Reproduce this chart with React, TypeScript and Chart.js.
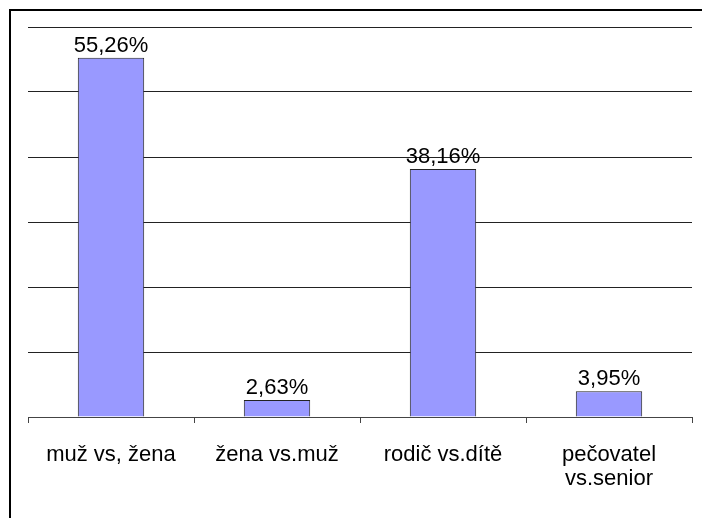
import React, { useEffect, useRef } from "react";
import { Chart, registerables } from "chart.js";

Chart.register(...registerables);

const categories: (string | string[])[] = [
  "muž vs, žena",
  "žena vs.muž",
  "rodič vs.dítě",
  ["pečovatel", "vs.senior"],
];
const values: number[] = [55.26, 2.63, 38.16, 3.95];
const yMin = 0;
const yMax = 60;
const yStep = 10;

const FONT = "'Liberation Sans', Arial, sans-serif";

const framePlugin = {
  id: "frame",
  beforeDraw(chart: any) {
    const { ctx, width, height } = chart;
    ctx.save();
    ctx.fillStyle = "#ffffff";
    ctx.fillRect(0, 0, width, height);
    ctx.strokeStyle = "#000000";
    ctx.lineWidth = 2;
    ctx.beginPath();
    ctx.moveTo(width + 2, 10);
    ctx.lineTo(10, 10);
    ctx.lineTo(10, height + 2);
    ctx.stroke();
    ctx.restore();
  },
};

const valueLabelPlugin = {
  id: "valueLabels",
  afterDatasetsDraw(chart: any) {
    const { ctx } = chart;
    const meta = chart.getDatasetMeta(0);
    ctx.save();
    ctx.fillStyle = "#000000";
    ctx.font = `22px ${FONT}`;
    ctx.textAlign = "center";
    ctx.textBaseline = "alphabetic";
    meta.data.forEach((bar: any, i: number) => {
      const txt = values[i].toFixed(2).replace(".", ",") + "%";
      ctx.fillText(txt, bar.x, bar.y - 6);
    });
    ctx.restore();
  },
};

export default function App() {
  const ref = useRef<HTMLCanvasElement | null>(null);

  useEffect(() => {
    document.body.style.margin = "0";
    if (!ref.current) return;
    const chart = new Chart(ref.current, {
      type: "bar",
      data: {
        labels: categories,
        datasets: [
          {
            data: values,
            backgroundColor: "#9999ff",
            borderColor: "#222222",
            borderWidth: 1,
            barPercentage: 0.4,
            categoryPercentage: 1,
          },
        ],
      },
      options: {
        animation: false,
        responsive: false,
        maintainAspectRatio: false,
        layout: { padding: { left: 28, right: 10, top: 27, bottom: 0 } },
        plugins: {
          legend: { display: false },
          tooltip: { enabled: false },
          title: { display: false },
        },
        scales: {
          x: {
            offset: true,
            grid: {
              display: true,
              drawOnChartArea: false,
              drawTicks: true,
              tickLength: 6,
              color: "#444444",
              offset: true,
            },
            border: { display: true, color: "#444444", width: 1 },
            ticks: {
              color: "#000000",
              font: { family: FONT, size: 22, lineHeight: 24 / 22 },
              padding: 20,
              maxRotation: 0,
              autoSkip: false,
            },
            afterFit: (scale: any) => {
              scale.height = 101;
            },
          },
          y: {
            min: yMin,
            max: yMax,
            ticks: { display: false, stepSize: yStep },
            grid: { drawTicks: false, color: "#222222", lineWidth: 1 },
            border: { display: false },
            afterFit: (scale: any) => {
              scale.width = 0;
            },
          },
        },
      },
      plugins: [framePlugin, valueLabelPlugin],
    });
    return () => chart.destroy();
  }, []);

  return (
    <div style={{ width: 702, height: 518 }}>
      <canvas ref={ref} width={702} height={518} style={{ display: "block" }} />
    </div>
  );
}
